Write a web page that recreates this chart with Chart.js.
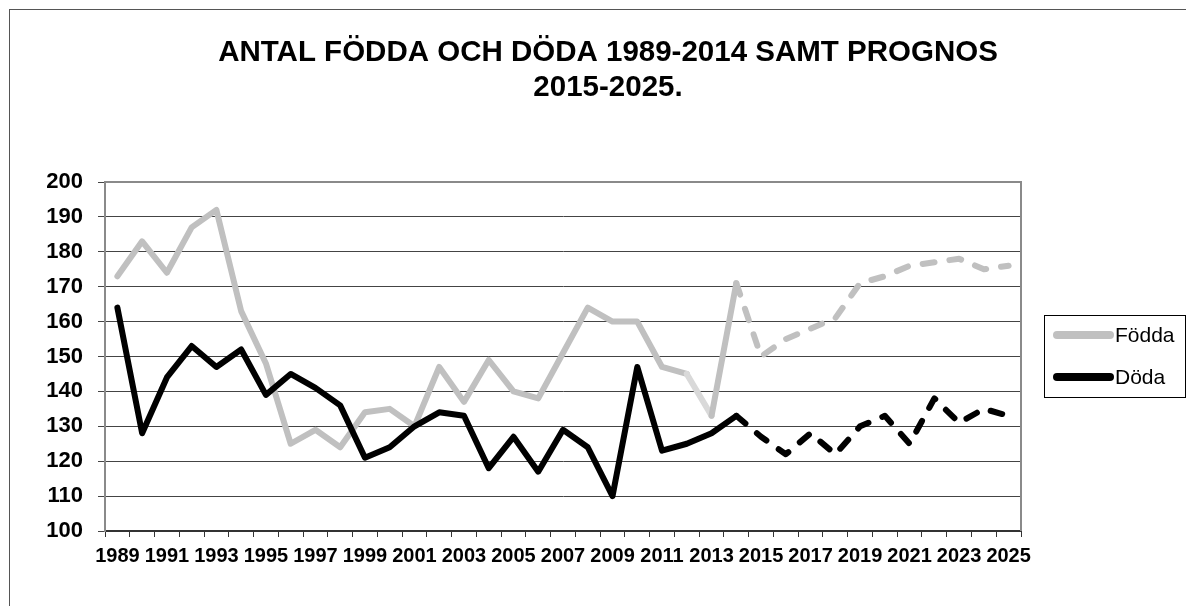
<!DOCTYPE html>
<html>
<head>
<meta charset="utf-8">
<script src="https://cdn.jsdelivr.net/npm/chart.js@4"></script>
<style>
  html, body { margin: 0; padding: 0; background: #fff; overflow: hidden; }
  #wrap { position: relative; width: 1186px; height: 606px; }
</style>
</head>
<body>
<div id="wrap"><canvas id="birthsChart"></canvas></div>
<script>
// Données : antal födda och döda, 1989-2014 utfall, 2015-2025 prognos
const years = [
  '1989','1990','1991','1992','1993','1994','1995','1996','1997','1998',
  '1999','2000','2001','2002','2003','2004','2005','2006','2007','2008',
  '2009','2010','2011','2012','2013','2014','2015','2016','2017','2018',
  '2019','2020','2021','2022','2023','2024','2025'
];
const fodda = [
  173, 183, 174, 187, 192, 163, 148, 125, 129, 124,
  134, 135, 130, 147, 137, 149, 140, 138, 151, 164,
  160, 160, 147, 145, 133, 171, 150, 155, 158, 161,
  171, 173, 176, 177, 178, 175, 176
];
const doda = [
  164, 128, 144, 153, 147, 152, 139, 145, 141, 136,
  121, 124, 130, 134, 133, 118, 127, 117, 129, 124,
  110, 147, 123, 125, 128, 133, 127, 122, 128, 122,
  130, 133, 125, 138, 131, 135, 133
];
const yTicks = { min: 100, max: 200, step: 10 };
const titleLines = ['ANTAL FÖDDA OCH DÖDA 1989-2014 SAMT PROGNOS', '2015-2025.'];

const lastActual = years.indexOf('2014');
const dashPattern = [12, 15];

// dessine le cadre, le titre et la légende
const decorPlugin = {
  id: 'decor',
  beforeDraw(chart) {
    const ctx = chart.ctx;
    ctx.save();
    ctx.fillStyle = '#fff';
    ctx.fillRect(0, 0, chart.width, chart.height);
    ctx.strokeStyle = '#555';
    ctx.lineWidth = 1;
    ctx.strokeRect(9.5, 9.5, 1400, 800);
    ctx.restore();
  },
  afterDatasetsDraw(chart) {
    const ctx = chart.ctx;
    const a = chart.chartArea;
    ctx.save();
    // cadre gris de la zone du graphique
    ctx.strokeStyle = '#8a8a8a';
    ctx.lineWidth = 2;
    ctx.beginPath();
    ctx.moveTo(a.left, a.bottom);
    ctx.lineTo(a.left, a.top);
    ctx.lineTo(a.right, a.top);
    ctx.lineTo(a.right, a.bottom);
    ctx.stroke();

    // titre
    ctx.fillStyle = '#000';
    ctx.font = 'bold 29.5px Arial, "Liberation Sans", sans-serif';
    ctx.textAlign = 'center';
    ctx.textBaseline = 'middle';
    titleLines.forEach((t, i) => ctx.fillText(t, 608, 53 + i * 35));

    // légende
    ctx.strokeStyle = '#000';
    ctx.lineWidth = 1;
    ctx.strokeRect(1044.5, 315.5, 141, 82);
    ctx.font = '21px Arial, "Liberation Sans", sans-serif';
    ctx.textAlign = 'left';
    chart.data.datasets.forEach((ds, i) => {
      const y = 335 + i * 42;
      ctx.strokeStyle = ds.borderColor;
      ctx.lineWidth = 8;
      ctx.lineCap = 'round';
      ctx.beginPath();
      ctx.moveTo(1057, y);
      ctx.lineTo(1110, y);
      ctx.stroke();
      ctx.fillStyle = '#000';
      ctx.fillText(ds.label, 1115, y + 1);
    });
    ctx.restore();
  }
};

const ctx = document.getElementById('birthsChart').getContext('2d');
const chart = new Chart(ctx, {
  type: 'line',
  data: {
    labels: years,
    datasets: [{
      label: 'Födda',
      data: fodda,
      borderColor: '#c0c0c0',
      borderWidth: 6,
      order: 1,
      segment: {
        borderColor: c => c.p0DataIndex === 23 ? '#d9d9d9' : undefined,
        borderDash: c => c.p0DataIndex >= lastActual ? dashPattern : undefined
      }
    }, {
      label: 'Döda',
      data: doda,
      borderColor: '#000000',
      borderWidth: 6,
      order: 0,
      segment: {
        borderDash: c => c.p0DataIndex >= lastActual ? dashPattern : undefined
      }
    }]
  },
  options: {
    responsive: true,
    maintainAspectRatio: false,
    animation: false,
    layout: { padding: { left: 0, top: 182, right: 165, bottom: 0 } },
    elements: {
      point: { radius: 0, hoverRadius: 0 },
      line: { tension: 0, borderCapStyle: 'round', borderJoinStyle: 'round' }
    },
    scales: {
      x: {
        offset: true,
        grid: { offset: true, drawOnChartArea: false, tickLength: 6, color: '#333', lineWidth: 1 },
        border: { color: '#333', width: 2 },
        ticks: {
          autoSkip: false,
          maxRotation: 0,
          minRotation: 0,
          padding: 7,
          color: '#000',
          font: { family: 'Arial, "Liberation Sans", sans-serif', size: 20, weight: 'bold' },
          callback: function(value, index) {
            return index % 2 === 0 ? years[index] : '';
          }
        },
        afterFit: s => { s.height = 75; }
      },
      y: {
        min: yTicks.min,
        max: yTicks.max,
        grid: { color: '#444', lineWidth: 1, tickLength: 7 },
        border: { color: '#8a8a8a', width: 2 },
        ticks: {
          stepSize: yTicks.step,
          padding: 15,
          color: '#000',
          font: { family: 'Arial, "Liberation Sans", sans-serif', size: 22, weight: 'bold' }
        },
        afterFit: s => { s.width = 105; }
      }
    },
    plugins: {
      legend: { display: false },
      title: { display: false },
      tooltip: { enabled: false }
    }
  },
  plugins: [decorPlugin]
});
</script>
</body>
</html>
